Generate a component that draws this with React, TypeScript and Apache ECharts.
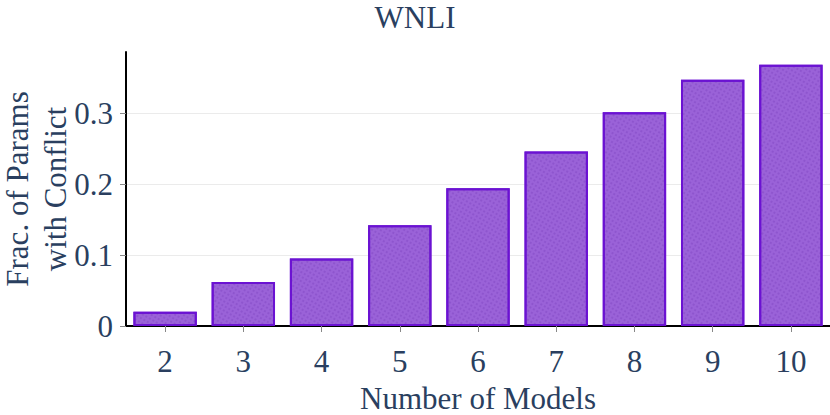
import React, { useEffect, useRef } from "react";
import * as echarts from "echarts";

const titleText = "WNLI";
const categories = ["2", "3", "4", "5", "6", "7", "8", "9", "10"];
const fracValues = [0.020, 0.062, 0.095, 0.142, 0.194, 0.246, 0.301, 0.347, 0.368];
const yTicks = [0, 0.1, 0.2, 0.3];
const xName = "Number of Models";
const yName = "Frac. of Params\nwith Conflict";

const FONT = "'Liberation Serif', 'Times New Roman', serif";
const TXT = "#2a3f5f";
const FS = 31;

export default function App() {
  const ref = useRef<HTMLDivElement>(null);
  useEffect(() => {
    if (!ref.current) return;
    const chart = echarts.init(ref.current, undefined, { renderer: "svg" });
    chart.setOption({
      animation: false,
      aria: { enabled: true, decal: { show: true } },
      backgroundColor: "#ffffff",
      textStyle: { fontFamily: FONT },
      title: {
        text: titleText,
        left: "center",
        top: -3,
        textStyle: { fontFamily: FONT, fontSize: FS, fontWeight: "normal", color: TXT },
      },
      grid: { left: 126, right: 0, top: 52, bottom: 89, containLabel: false, outerBoundsMode: "none" },
      xAxis: {
        type: "category",
        data: categories,
        name: xName,
        nameLocation: "middle",
        nameGap: 57,
        nameMoveOverlap: false,
        nameTextStyle: { fontFamily: FONT, fontSize: FS, color: TXT },
        axisLine: { show: true, lineStyle: { color: "#000", width: 2 } },
        axisTick: { show: true, alignWithLabel: true, length: 6, lineStyle: { color: "#888", width: 1 } },
        axisLabel: { fontFamily: FONT, fontSize: FS, color: TXT, margin: 20 },
        splitLine: { show: false },
      },
      yAxis: {
        type: "value",
        min: 0,
        max: 0.386,
        interval: 0.1,
        name: yName,
        nameLocation: "middle",
        nameGap: 52,
        nameMoveOverlap: false,
        nameRotate: 90,
        nameTextStyle: { fontFamily: FONT, fontSize: FS, color: TXT, lineHeight: 38 },
        axisLine: { show: true, lineStyle: { color: "#000", width: 2 } },
        axisTick: { show: true, length: 6, lineStyle: { color: "#888", width: 1 }, customValues: yTicks },
        axisLabel: {
          fontFamily: FONT,
          fontSize: FS,
          color: TXT,
          margin: 13,
          customValues: yTicks,
          formatter: (v: number) => (v === 0 ? "0" : v.toFixed(1)),
        },
        splitLine: { show: true, lineStyle: { color: "#ebebeb", width: 1 } },
      },
      series: [
        {
          type: "bar",
          data: fracValues,
          barCategoryGap: "19%",
          itemStyle: {
            color: "#9a62d8",
            borderColor: "#6b12d2",
            borderWidth: 2,
            decal: {
              symbol: "rect",
              symbolSize: 1,
              color: "rgba(90,30,160,0.18)",
              dashArrayX: [2, 2],
              dashArrayY: [2, 2],
            },
          },
        },
      ],
    });
    return () => chart.dispose();
  }, []);
  return (
    <div
      ref={ref}
      style={{ position: "absolute", left: 0, top: 0, width: 830, height: 415 }}
    />
  );
}
